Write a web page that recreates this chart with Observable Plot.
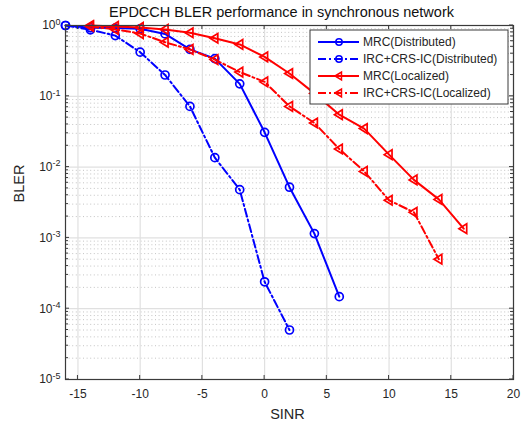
<!DOCTYPE html>
<html><head><meta charset="utf-8">
<script src="https://cdn.jsdelivr.net/npm/d3@7"></script>
<script src="https://cdn.jsdelivr.net/npm/@observablehq/plot@0.6"></script>
<style>body{margin:0;background:#fff;} svg{display:block}</style>
</head><body><div id="chart"></div>
<script>
// ---- data ----
const sinrMrcDist = [-16,-14,-12,-10,-8,-6,-4,-2,0,2,4,6];
const blerMrcDist = [1.0,0.93,0.92,0.9,0.76,0.46,0.34,0.15,0.031,0.0052,0.00115,0.000148];
const sinrIrcDist = [-16,-14,-12,-10,-8,-6,-4,-2,0,2];
const blerIrcDist = [1.0,0.87,0.72,0.42,0.2,0.072,0.0136,0.0048,0.00024,0.00005];
const sinrMrcLoc = [-14,-12,-10,-8,-6,-4,-2,0,2,4,6,8,10,12,14,16];
const blerMrcLoc = [1.0,0.97,0.94,0.88,0.79,0.66,0.54,0.36,0.21,0.11,0.055,0.035,0.015,0.0066,0.0035,0.00135];
const sinrIrcLoc = [-14,-12,-10,-8,-6,-4,-2,0,2,4,6,8,10,12,14];
const blerIrcLoc = [0.97,0.88,0.77,0.58,0.46,0.33,0.22,0.16,0.072,0.042,0.018,0.0087,0.0034,0.0023,0.0005];
const seriesNames = ["MRC(Distributed)","IRC+CRS-IC(Distributed)","MRC(Localized)","IRC+CRS-IC(Localized)"];
const xTicks = [-15,-10,-5,0,5,10,15,20];
const yTicks = [1e-5,1e-4,1e-3,1e-2,1e-1,1];
const titleText = "EPDCCH BLER performance in synchronous network";
const xLabel = "SINR";
const yLabel = "BLER";

// ---- styling ----
const FONT = "'Liberation Sans', Arial, Helvetica, sans-serif";
const BLUE = "#0000ff", RED = "#ff0000";
const DASHDOT = "8,3,2,3";
const leftTri = {draw(ctx, size){ const r = Math.sqrt(size/Math.PI)*1.12;
  ctx.moveTo(-r,0); ctx.lineTo(r*0.62,-r*1.0); ctx.lineTo(r*0.62,r*1.0); ctx.closePath(); }};

const yMinor = [];
for (let k=-5;k<0;k++) for (let m=2;m<10;m++) yMinor.push(m*Math.pow(10,k));

const series = [
  {name: seriesNames[0], xs: sinrMrcDist, ys: blerMrcDist, color: BLUE, dash: null, symbol: "circle"},
  {name: seriesNames[1], xs: sinrIrcDist, ys: blerIrcDist, color: BLUE, dash: DASHDOT, symbol: "circle"},
  {name: seriesNames[2], xs: sinrMrcLoc, ys: blerMrcLoc, color: RED, dash: null, symbol: leftTri},
  {name: seriesNames[3], xs: sinrIrcLoc, ys: blerIrcLoc, color: RED, dash: DASHDOT, symbol: leftTri}
];

const M = {left:65, right:11, top:25, bottom:46};
const W = 524, H = 425;

const seriesMarks = series.flatMap(s => {
  const rows = s.xs.map((x,i) => ({x, y: s.ys[i]}));
  return [
    Plot.line(rows, {x:"x", y:"y", stroke:s.color, strokeWidth:2, strokeDasharray:s.dash ?? undefined}),
    Plot.dot(rows, {x:"x", y:"y", stroke:s.color, strokeWidth:1.7, fill:"none", r: s.symbol === "circle" ? 4 : 4.3, symbol:s.symbol})
  ];
});

const plot = Plot.plot({
  width: W, height: H,
  marginLeft: M.left, marginRight: M.right, marginTop: M.top, marginBottom: M.bottom,
  style: {fontFamily: FONT, background: "#fff", color: "#262626", fontSize: "12px"},
  x: {domain: [-16, 20]},
  y: {type: "log", domain: [1e-5, 1]},
  marks: [
    Plot.ruleY(yMinor, {stroke:"#b5b5b5", strokeWidth:0.8, strokeDasharray:"1,2.6"}),
    Plot.ruleY(yTicks, {stroke:"#e0e0e0", strokeWidth:1.2}),
    Plot.ruleX(xTicks, {stroke:"#e0e0e0", strokeWidth:1.2}),
    ...seriesMarks,
    Plot.frame({stroke:"#3a3a3a", strokeWidth:1.2}),
    Plot.axisX({ticks: xTicks, tickSize: 0, tickPadding: 10, fontSize: 12, label: null, tickFormat: d => String(d)}),
    Plot.axisY({ticks: yTicks, tickSize: 0, tickPadding: 5, fontSize: 12, label: null,
      tickFormat: d => "10^" + Math.round(Math.log10(d))}),
    Plot.text([titleText], {frameAnchor:"top", lineAnchor:"middle", dy:-13, dx:-8, fontSize:14.5, fill:"#111"}),
    Plot.text([xLabel], {frameAnchor:"bottom", lineAnchor:"middle", dy:35, dx:-2, fontSize:14.5, fill:"#262626"}),
    Plot.text([yLabel], {frameAnchor:"left", dx:-46, rotate:-90, fontSize:14.5, fill:"#262626"})
  ]
});
document.getElementById("chart").appendChild(plot);

// ---- post-processing: superscripts, inward ticks, legend ----
const ns = "http://www.w3.org/2000/svg";
const svgSel = d3.select(plot);
plot.querySelectorAll('g[aria-label="y-axis tick label"] text').forEach(t => {
  const parts = t.textContent.split("^");
  if (parts.length === 2) {
    t.textContent = parts[0];
    const ts = document.createElementNS(ns, "tspan");
    ts.setAttribute("dy", "-0.5em");
    ts.setAttribute("font-size", "9");
    ts.textContent = parts[1];
    t.appendChild(ts);
  }
});

const sx = plot.scale("x"), sy = plot.scale("y");
const L = M.left, R = W - M.right, T = M.top, B = H - M.bottom;
const tg = svgSel.append("g").attr("stroke", "#3a3a3a").attr("stroke-width", 1);
xTicks.forEach(v => {
  const px = sx.apply(v);
  tg.append("line").attr("x1", px).attr("x2", px).attr("y1", B).attr("y2", B-4);
  tg.append("line").attr("x1", px).attr("x2", px).attr("y1", T).attr("y2", T+4);
});
yTicks.concat(yMinor).forEach(v => {
  const py = sy.apply(v);
  const len = yTicks.includes(v) ? 4 : 3;
  tg.append("line").attr("x1", L).attr("x2", L+len).attr("y1", py).attr("y2", py);
  tg.append("line").attr("x1", R).attr("x2", R-len).attr("y1", py).attr("y2", py);
});

// legend
const lg = svgSel.append("g").attr("font-family", FONT).attr("text-anchor", "start");
const lx = 310, ly = 30, lw = 198, lh = 74;
lg.append("rect").attr("x", lx).attr("y", ly).attr("width", lw).attr("height", lh)
  .attr("fill", "#fff").attr("stroke", "#3a3a3a").attr("stroke-width", 1);
series.forEach((s, i) => {
  const yy = ly + 12 + i*17;
  lg.append("line").attr("x1", lx+8).attr("x2", lx+49).attr("y1", yy).attr("y2", yy)
    .attr("stroke", s.color).attr("stroke-width", 2).attr("stroke-dasharray", s.dash);
  const cx = lx + 29;
  if (s.symbol === "circle") {
    lg.append("circle").attr("cx", cx).attr("cy", yy).attr("r", 3.2)
      .attr("fill", "none").attr("stroke", s.color).attr("stroke-width", 1.5);
  } else {
    const r = 4;
    lg.append("path").attr("d", `M${cx-r},${yy}L${cx+r*0.62},${yy-r}L${cx+r*0.62},${yy+r}Z`)
      .attr("fill", "none").attr("stroke", s.color).attr("stroke-width", 1.5);
  }
  lg.append("text").attr("x", lx+53).attr("y", yy).attr("dy", "0.35em")
    .attr("font-size", 12).attr("fill", "#262626").attr("text-anchor", "start").text(s.name);
});
</script>
</body></html>
